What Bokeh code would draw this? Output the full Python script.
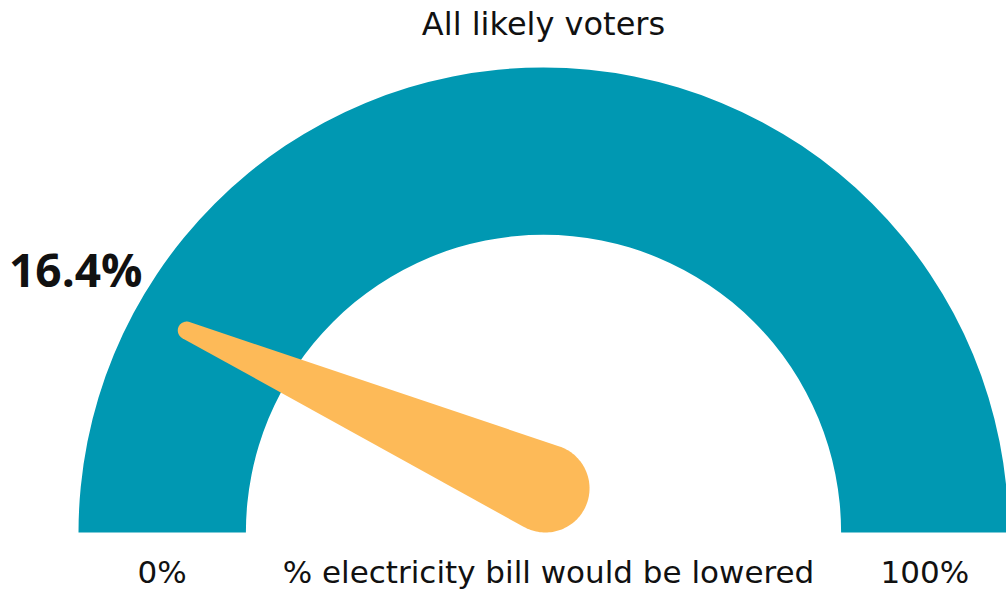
import numpy as np
from bokeh.plotting import figure
from bokeh.models import Range1d
from bokeh.core.properties import value
from bokeh.embed import file_html
from bokeh.resources import INLINE

# ---- data ----
group_title = ["All likely voters"]
needle_value = [16.4]          # percent
scale_min = [0]
scale_max = [100]
tick_labels = ["0%", "100%"]
axis_title = ["% electricity bill would be lowered"]

# ---- styling / layout ----
TEAL = "#0098B2"
ORANGE = "#FDBA58"
TEXT = "#111111"
FONT = "DejaVu Sans"
BOLD_FONT = "Open Sans"
W, H = 1006, 589
PX = 465.0                     # pixels per gauge unit (outer radius = 1)
CX, CY = 543.0, 532.0          # gauge centre inside the frame (px from top-left)

def dx(px):
    return (px - CX) / PX

def dy(py):
    return (CY - py) / PX

p = figure(width=W, height=H, output_backend="svg", toolbar_location=None,
           x_range=Range1d(dx(0), dx(W)), y_range=Range1d(dy(H), dy(0)),
           min_border=0, outline_line_color=None, background_fill_color="white",
           border_fill_color="white")
p.axis.visible = False
p.grid.visible = False

R_OUT, R_IN = 1.0, 0.64
p.annular_wedge(x=[0], y=[0], inner_radius=R_IN, outer_radius=R_OUT,
                start_angle=[0], end_angle=[np.pi], fill_color=TEAL, line_color=None)

# needle
frac = (needle_value[0] - scale_min[0]) / (scale_max[0] - scale_min[0])
theta = np.pi * (1 - frac)
tip_len, tip_r = 0.882, 0.019
base_r = 0.095
A = np.array([0.004, base_r])
B = np.array([tip_len * np.cos(theta), tip_len * np.sin(theta)])
d = B - A
L = np.hypot(*d)
alpha = np.arctan2(d[1], d[0])
beta = np.arccos((base_r - tip_r) / L)
t1 = np.linspace(alpha - beta, alpha + beta, 40)
t2 = np.linspace(alpha + beta, alpha + 2 * np.pi - beta, 80)
xs = np.concatenate([B[0] + tip_r * np.cos(t1), A[0] + base_r * np.cos(t2)])
ys = np.concatenate([B[1] + tip_r * np.sin(t1), A[1] + base_r * np.sin(t2)])
p.patch(xs, ys, fill_color=ORANGE, line_color=None)

# texts
p.text(x=[0.0], y=[dy(23)], text=group_title, text_font=value(FONT),
       text_font_size=value("32px"), text_color=TEXT, text_align="center",
       text_baseline="alphabetic")
p.text(x=[dx(142)], y=[dy(268)], text=[f"{needle_value[0]:.1f}%"], text_font=value(BOLD_FONT),
       text_font_size=value("46px"), text_font_style="bold", text_color=TEXT,
       text_align="right", text_baseline="alphabetic")
mid = (R_OUT + R_IN) / 2
p.text(x=[-mid, mid], y=[dy(571)] * 2, text=tick_labels, text_font=value(FONT),
       text_font_size=value("31px"), text_color=TEXT, text_align="center",
       text_baseline="alphabetic")
p.text(x=[dx(548)], y=[dy(571)], text=axis_title, text_font=value(FONT),
       text_font_size=value("31px"), text_color=TEXT, text_align="center",
       text_baseline="alphabetic")

open("out.html", "w").write(file_html(p, INLINE))
